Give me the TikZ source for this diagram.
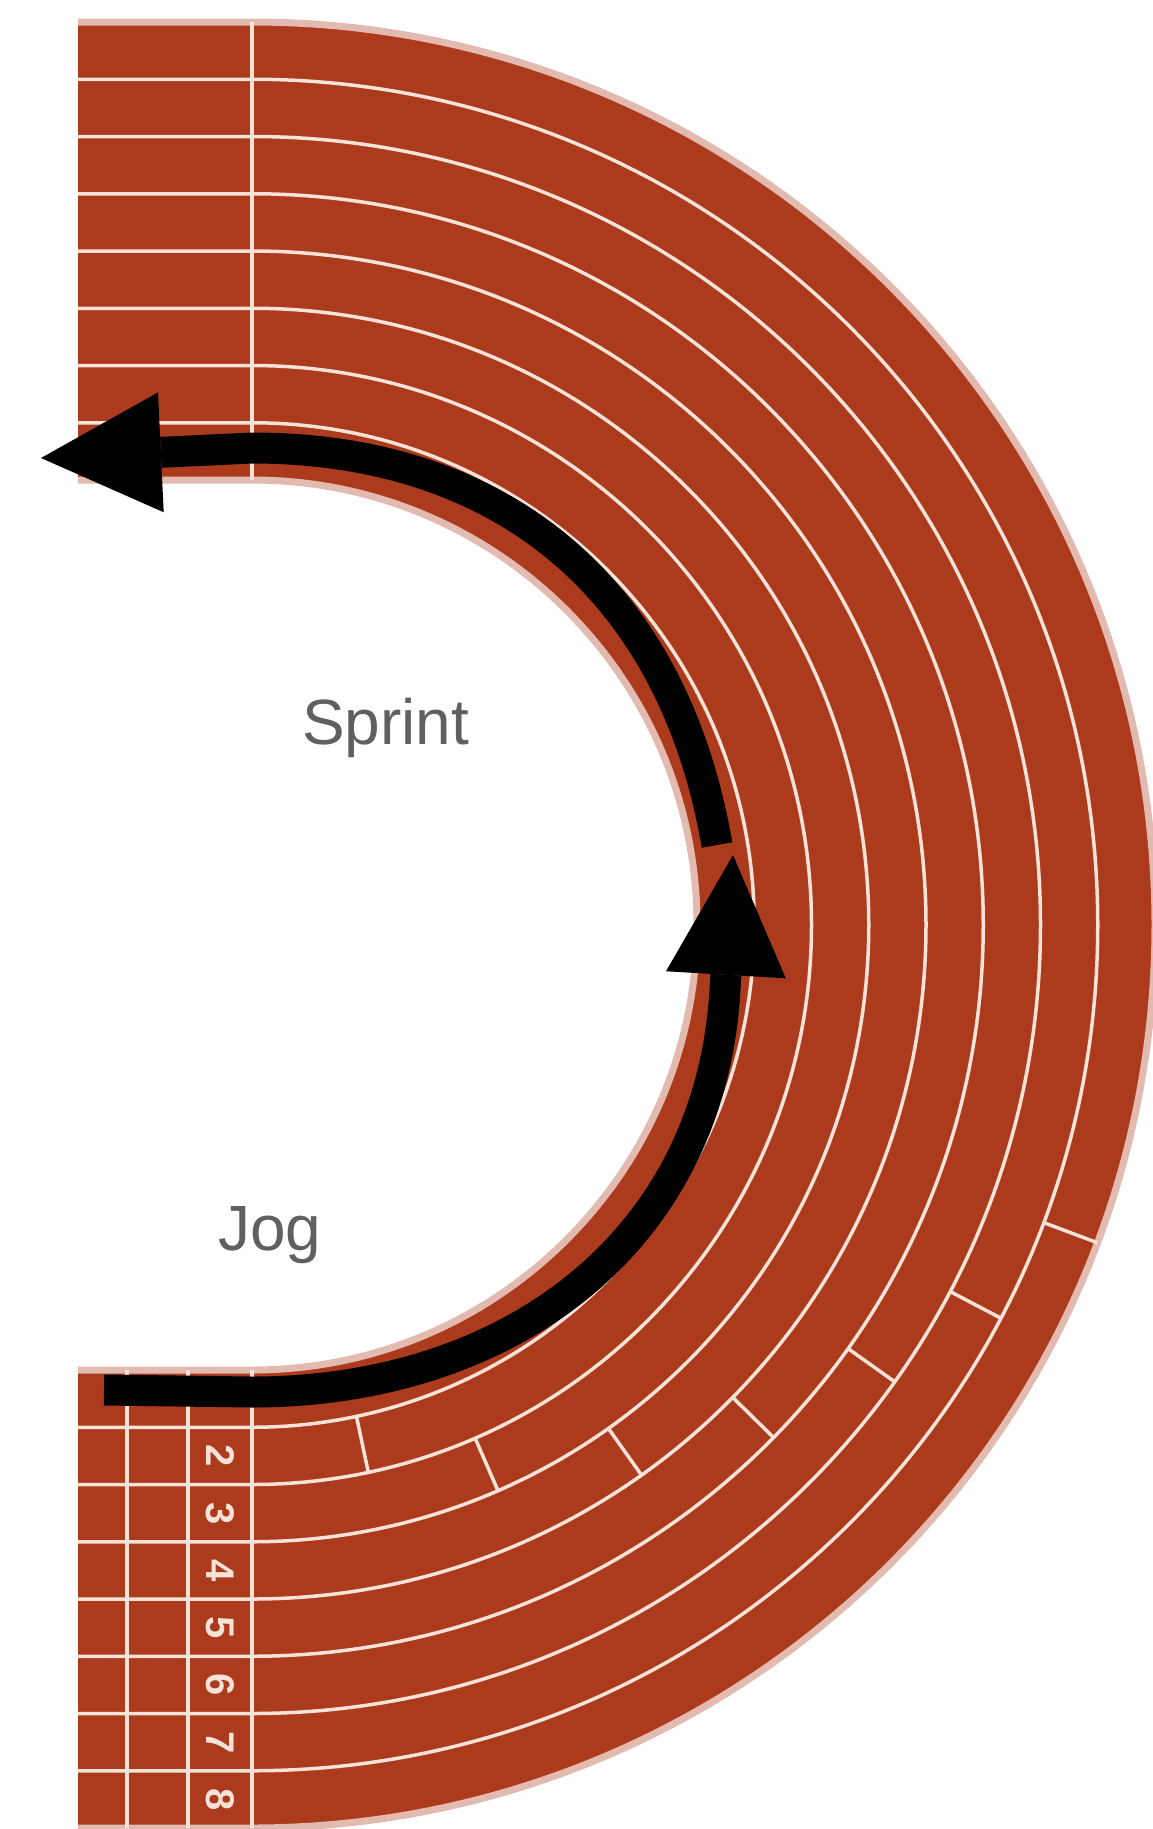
\documentclass[tikz,border=0pt]{standalone}
\usepackage{fontspec}
\setmainfont{Liberation Sans}
\usetikzlibrary{arrows.meta}
\definecolor{track}{RGB}{172,59,30}
\definecolor{chalk}{RGB}{246,226,214}
\definecolor{labelgray}{RGB}{96,96,96}

\begin{document}
\begin{tikzpicture}[
    x=1pt, y=-1pt,
    laneline/.style={draw=chalk, line width=3.5pt},
    rim/.style={draw=track!35!white, line width=7pt},
    trail/.style={line width=31pt, -{Triangle[length=120pt,width=120pt,line width=0pt]}},
    lanenum/.style={text=chalk, inner sep=0pt, rotate=-90,
      font=\fontsize{40}{40}\selectfont\bfseries},
    wordlabel/.style={text=labelgray, inner sep=0pt, anchor=base west,
      font=\fontsize{64}{64}\selectfont},
  ]
  \useasboundingbox (0,0) rectangle (1152,1829);
  \coordinate (ctr) at (252,925);

  \fill[track] (78,22) -- (252,22) arc[start angle=-90, end angle=90, radius=903]
    -- (78,1828) -- (78,1370) -- (252,1370) arc[start angle=90, end angle=-90, radius=445]
    -- (78,480) -- cycle;
  \draw[rim] (78,22) -- (252,22) arc[start angle=-90, end angle=90, radius=903] -- (78,1828);
  \draw[rim] (78,480) -- (252,480) arc[start angle=-90, end angle=90, radius=445] -- (78,1370);

  \foreach \k in {1,...,7} {
    \pgfmathsetmacro\r{445+57.25*\k}
    \draw[laneline] (78,{925-\r}) -- (252,{925-\r})
      arc[start angle=-90, end angle=90, radius=\r] -- (78,{925+\r});
  }
  \draw[laneline] (252,22) -- (252,480);
  \foreach \x in {127,188,252}
    \draw[laneline] (\x,1370) -- (\x,1828);
  \foreach \a/\k in {78/1,66.5/2,54.7/3,44.5/4,35.4/5,27.7/6,20.6/7}
    \draw[laneline] (ctr) ++(\a:{445+57.25*\k}) -- ++(\a:57.25);

  \foreach \n in {2,...,8}
    \node[lanenum] (lane\n) at (220,{1370+57.25*(\n-0.5)}) {\n};

  \coordinate (sprintstart) at (717,845);
  \coordinate (sprintend) at (41,458);
  \coordinate (jogstart) at (104,1390);
  \coordinate (jogend) at (733,855);
  \draw[trail] (sprintstart) .. controls (674,594) and (507,448) .. (252,448) -- (sprintend);
  \draw[trail] (jogstart) -- (252,1392) .. controls (507,1392) and (710,1244) .. (725,990) -- (jogend);

  \node[wordlabel] (sprint) at (302,744) {Sprint};
  \node[wordlabel] (jog) at (218,1250) {Jog};
\end{tikzpicture}
\end{document}
